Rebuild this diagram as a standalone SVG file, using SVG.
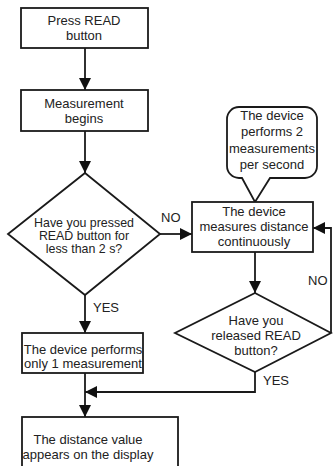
<svg xmlns="http://www.w3.org/2000/svg" width="333" height="466" viewBox="0 0 333 466">
  <defs>
    <marker id="arrow" markerUnits="userSpaceOnUse" markerWidth="12" markerHeight="12" refX="12" refY="6" orient="auto">
      <path d="M0,0 L12,6 L0,12 Z" fill="#111"/>
    </marker>
    <style>
      .shape { fill: #fff; stroke: #1a1a1a; stroke-width: 1.8; }
      .line { fill: none; stroke: #1a1a1a; stroke-width: 1.8; }
      .arr { marker-end: url(#arrow); }
      text { font-family: "Liberation Sans", Arial, sans-serif; font-size: 13px; fill: #222; text-anchor: middle; }
      .tight { font-size: 12.4px; }
      .lbl { text-anchor: start; }
    </style>
  </defs>
  <rect width="333" height="466" fill="#fff"/>

  <!-- connectors -->
  <g id="connectors">
    <path class="line arr" d="M85,48 V90"/>
    <path class="line arr" d="M85,131 V173"/>
    <path class="line arr" d="M160,234 H192"/>
    <path class="line arr" d="M85,295 V333"/>
    <path class="line arr" d="M255,252 V293"/>
    <path class="line arr" d="M331,333 V228 H313"/>
    <path class="line arr" d="M255,372 V392 H85"/>
    <path class="line arr" d="M85,373 V417"/>
    <text class="lbl" x="161" y="222">NO</text>
    <text class="lbl" x="93" y="312">YES</text>
    <text class="lbl" x="308" y="285">NO</text>
    <text class="lbl" x="263" y="385">YES</text>
  </g>

  <g id="press-read">
    <rect class="shape" x="21" y="8" width="127" height="40"/>
    <text x="84" y="25">Press READ</text>
    <text x="84" y="40">button</text>
  </g>

  <g id="measurement-begins">
    <rect class="shape" x="21" y="90" width="127" height="41"/>
    <text x="84" y="108">Measurement</text>
    <text x="84" y="123">begins</text>
  </g>

  <g id="pressed-less-2s">
    <polygon class="shape" points="85,173 160,234 85,295 8,234"/>
    <text class="tight" x="84" y="227">Have you pressed</text>
    <text class="tight" x="84" y="240">READ button for</text>
    <text class="tight" x="84" y="253">less than 2 s?</text>
  </g>

  <g id="two-per-second">
    <path class="shape" d="M239,107 H305 A12,12 0 0 1 317,119 V166 A12,12 0 0 1 305,178 H270 L255,202 L242,178 H239 A12,12 0 0 1 227,166 V119 A12,12 0 0 1 239,107 Z"/>
    <text x="272" y="120">The device</text>
    <text x="272" y="136">performs 2</text>
    <text x="272" y="153">measurements</text>
    <text x="272" y="169">per second</text>
  </g>

  <g id="measures-continuously">
    <rect class="shape" x="192" y="202" width="121" height="50"/>
    <text x="254" y="216">The device</text>
    <text x="254" y="231">measures distance</text>
    <text x="254" y="246">continuously</text>
  </g>

  <g id="released-read">
    <polygon class="shape" points="255,293 331,333 255,372 175,333"/>
    <text x="256" y="325">Have you</text>
    <text x="256" y="340">released READ</text>
    <text x="256" y="355">button?</text>
  </g>

  <g id="one-measurement">
    <rect class="shape" x="22" y="333" width="121" height="40"/>
    <text x="83" y="354">The device performs</text>
    <text x="83" y="368">only 1 measurement</text>
  </g>

  <g id="value-displayed">
    <rect class="shape" x="22" y="417" width="156" height="60"/>
    <text x="88" y="444">The distance value</text>
    <text x="88" y="459">appears on the display</text>
  </g>
</svg>
